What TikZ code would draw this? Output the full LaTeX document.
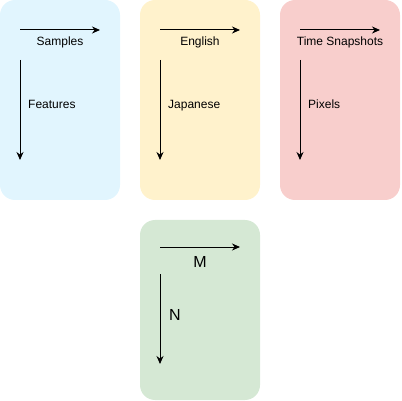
\documentclass[tikz,border=0pt]{standalone}
\usepackage{fontspec}
\setmainfont{Liberation Sans}
\usetikzlibrary{positioning, arrows.meta}
\definecolor{bluefill}{HTML}{E1F5FE}
\definecolor{yellowfill}{HTML}{FFF2CC}
\definecolor{redfill}{HTML}{F8CECC}
\definecolor{greenfill}{HTML}{D5E8D4}

\begin{document}
\begin{tikzpicture}[
  x=1pt, y=-1pt,
  panel/.style={rectangle, rounded corners=15pt, minimum width=120pt, minimum height=200pt, inner sep=0pt, outer sep=0pt},
  axis/.style={-{Stealth[length=8pt, width=7pt]}, line width=1pt},
  lbl/.style={font=\fontsize{12}{14}\selectfont, inner sep=0pt},
  biglbl/.style={font=\fontsize{16}{19}\selectfont, inner sep=0pt}
]
\useasboundingbox (0,0) rectangle (402,401);

% Panels
\node[panel, fill=bluefill] (samples) at (60,100) {};
\node[panel, fill=yellowfill, right=20pt of samples] (english) {};
\node[panel, fill=redfill, right=20pt of english] (snapshots) {};
\node[panel, fill=greenfill, minimum height=180pt, below=20pt of english] (matrix) {};

% Samples / Features
\coordinate (samplesA) at ([shift={(20,30)}]samples.north west);
\coordinate (samplesB) at ([shift={(100,30)}]samples.north west);
\coordinate (featuresA) at ([shift={(20,60)}]samples.north west);
\coordinate (featuresB) at ([shift={(20,160)}]samples.north west);
\draw[axis] (samplesA) -- (samplesB);
\draw[axis] (featuresA) -- (featuresB);
\node[lbl, anchor=base] (samplesLbl) at ([shift={(60,46)}]samples.north west) {Samples};
\node[lbl, anchor=base west] (featuresLbl) at ([shift={(28,109)}]samples.north west) {Features};

% English / Japanese
\coordinate (englishA) at ([shift={(20,30)}]english.north west);
\coordinate (englishB) at ([shift={(100,30)}]english.north west);
\coordinate (japaneseA) at ([shift={(20,60)}]english.north west);
\coordinate (japaneseB) at ([shift={(20,160)}]english.north west);
\draw[axis] (englishA) -- (englishB);
\draw[axis] (japaneseA) -- (japaneseB);
\node[lbl, anchor=base] (englishLbl) at ([shift={(60,46)}]english.north west) {English};
\node[lbl, anchor=base west] (japaneseLbl) at ([shift={(28,109)}]english.north west) {Japanese};

% Time Snapshots / Pixels
\coordinate (timeA) at ([shift={(20,30)}]snapshots.north west);
\coordinate (timeB) at ([shift={(100,30)}]snapshots.north west);
\coordinate (pixelsA) at ([shift={(20,60)}]snapshots.north west);
\coordinate (pixelsB) at ([shift={(20,160)}]snapshots.north west);
\draw[axis] (timeA) -- (timeB);
\draw[axis] (pixelsA) -- (pixelsB);
\node[lbl, anchor=base] (timeLbl) at ([shift={(60,46)}]snapshots.north west) {Time Snapshots};
\node[lbl, anchor=base west] (pixelsLbl) at ([shift={(28,109)}]snapshots.north west) {Pixels};

% M / N
\coordinate (mA) at ([shift={(20,27)}]matrix.north west);
\coordinate (mB) at ([shift={(100,27)}]matrix.north west);
\coordinate (nA) at ([shift={(20,54)}]matrix.north west);
\coordinate (nB) at ([shift={(20,144)}]matrix.north west);
\draw[axis] (mA) -- (mB);
\draw[axis] (nA) -- (nB);
\node[biglbl, anchor=base] (mLbl) at ([shift={(60,47)}]matrix.north west) {M};
\node[biglbl, anchor=base] (nLbl) at ([shift={(35,100)}]matrix.north west) {N};

\end{tikzpicture}
\end{document}
